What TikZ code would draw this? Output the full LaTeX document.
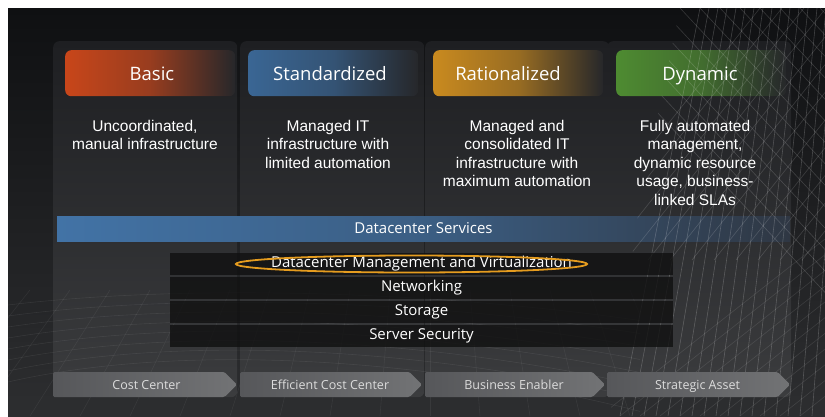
\documentclass[tikz,border=0pt]{standalone}
\usepackage{fontspec}
\setmainfont{Liberation Sans}
\newfontfamily\uifont{Open Sans}
\usetikzlibrary{shapes.geometric}

\definecolor{bgtop}{HTML}{0F1012}
\definecolor{bgbot}{HTML}{2D2E30}
\definecolor{paneltop}{HTML}{1E1F22}
\definecolor{panelbot}{HTML}{3B3C3E}
\definecolor{hdrend}{HTML}{26272A}
\definecolor{basicc}{HTML}{C8461A}
\definecolor{stdc}{HTML}{3A6694}
\definecolor{ratc}{HTML}{C98A1F}
\definecolor{dync}{HTML}{4E8B31}
\definecolor{svcl}{HTML}{4273A6}
\definecolor{svcr}{HTML}{2F3743}
\definecolor{layerc}{HTML}{101010}
\definecolor{ringc}{HTML}{E59C1F}
\definecolor{chevl}{HTML}{56575A}
\definecolor{chevr}{HTML}{727375}
\definecolor{chevtxt}{HTML}{DCDCDC}

\tikzset{
  panel/.style={rounded corners=6pt, top color=paneltop, bottom color=panelbot,
    minimum width=184, minimum height=356, anchor=north west, inner sep=0, draw=none},
  hdrbox/.style={rounded corners=6pt, shading=axis, left color=#1, right color=hdrend,
    middle color=#1!70!hdrend, minimum width=170, minimum height=46,
    anchor=north west, inner sep=0},
  hdrtext/.style={font=\uifont\fontsize{18.5}{22}\selectfont, text=white, inner sep=0, anchor=base},
  desc/.style={font=\fontsize{15.5}{18.5}\selectfont, text=white, align=center,
    anchor=north, inner sep=0},
  svcbar/.style={shading=axis, left color=svcl, right color=svcr, middle color=svcl!65!svcr,
    minimum width=733, minimum height=25, inner sep=0, text=white,
    font=\uifont\fontsize{15}{18}\selectfont},
  layer/.style={fill=layerc, fill opacity=.8, text opacity=1, minimum width=503,
    minimum height=22, inner sep=0, text=white, font=\uifont\fontsize{15}{18}\selectfont},
  ring/.style={ellipse, draw=ringc, line width=1.8pt, minimum width=351,
    minimum height=17, inner sep=0},
  chevfill/.style={shading=axis, left color=chevl, right color=chevr, rounded corners=1.5pt},
  chevtext/.style={text=chevtxt, inner sep=0, anchor=base, font=\uifont\fontsize{12.5}{15}\selectfont},
  mesh/.style={draw=white, line width=0.6pt}
}

% a stage arrow: left x, right x (tip), top y, bottom y
\newcommand{\stagearrow}[4]{%
  \path[chevfill] (#1,#3) -- ({#2-12.5},#3) -- (#2,{(#3+#4)/2}) -- ({#2-12.5},#4) -- (#1,#4) -- cycle;}

\begin{document}
\begin{tikzpicture}[x=1pt,y=-1pt]
\useasboundingbox (0,0) rectangle (825,416);
\fill[white] (0,0) rectangle (825,416);
\shade[top color=bgtop, bottom color=bgbot] (8,8) rectangle (825,416);

% maturity columns
\node[panel] (p1) at (53,41) {};
\node[panel] (p2) at (240,41) {};
\node[panel] (p3) at (425,41) {};
\node[panel] (p4) at (607,41) {};

% column header bars
\node[hdrbox=basicc] (h1) at (65,50) {};
\node[hdrbox=stdc]   (h2) at (248,50) {};
\node[hdrbox=ratc]   (h3) at (433,50) {};
\node[hdrbox=dync]   (h4) at (616,50) {};

% service band
\node[svcbar] (svc) at (423.5,228.5) {Datacenter Services};

% wireframe surface, right side
\begin{scope}
  \clip (680,8) -- (825,8) -- (825,416) -- (610,416) -- (640,200) -- cycle;
  \foreach \i in {0,...,16}
    \draw[mesh, opacity=.2] (700+9*\i,8) -- (620+12*\i,416);
  \foreach \i in {0,...,14}
    \draw[mesh, opacity=.16] (560+20*\i,8) -- (860+20*\i,330);
  \foreach \i in {0,...,12}
    \draw[mesh, opacity=.15] (760+22*\i,8) -- (560+22*\i,260);
  \foreach \i in {0,...,10}
    \draw[mesh, opacity=.1] (900+20*\i,180) -- (600+20*\i,416);
\end{scope}
% wireframe surface, lower left
\begin{scope}
  \clip (8,260) rectangle (640,416);
  \foreach \k in {0,...,7}
    \draw[mesh, opacity=.07] (8,305+11*\k) .. controls (200,282+8*\k) and (480,292+10*\k) .. (700,330+14*\k);
  \foreach \i in {0,...,18}
    \draw[mesh, opacity=.06] (30+40*\i,290) -- (-70+50*\i,416);
\end{scope}

% column titles
\node[hdrtext] (t1) at (152,80) {Basic};
\node[hdrtext] (t2) at (330,80) {Standardized};
\node[hdrtext] (t3) at (508,80) {Rationalized};
\node[hdrtext] (t4) at (700,80) {Dynamic};

% column descriptions
\node[desc] (d1) at (145,120) {Uncoordinated,\\manual infrastructure};
\node[desc] (d2) at (328,120) {Managed IT\\infrastructure with\\limited automation};
\node[desc] (d3) at (517,120) {Managed and\\consolidated IT\\infrastructure with\\maximum automation};
\node[desc] (d4) at (695,120) {Fully automated\\management,\\dynamic resource\\usage, business-\\linked SLAs};

% infrastructure layers
\node[layer] (r1) at (421.5,264) {Datacenter Management and Virtualization};
\node[layer] (r2) at (421.5,288) {Networking};
\node[layer] (r3) at (421.5,312) {Storage};
\node[layer] (r4) at (421.5,336) {Server Security};
\node[ring] (ring) at (411.5,264) {};

% value stages
\stagearrow{53}{237}{372}{397}
\stagearrow{240}{422}{372}{397}
\stagearrow{425}{605}{372}{397}
\stagearrow{607}{790}{372}{397}
\node[chevtext] (c1) at (146.5,389) {Cost Center};
\node[chevtext] (c2) at (330,389) {Efficient Cost Center};
\node[chevtext] (c3) at (514,389) {Business Enabler};
\node[chevtext] (c4) at (697.5,389) {Strategic Asset};
\end{tikzpicture}
\end{document}
